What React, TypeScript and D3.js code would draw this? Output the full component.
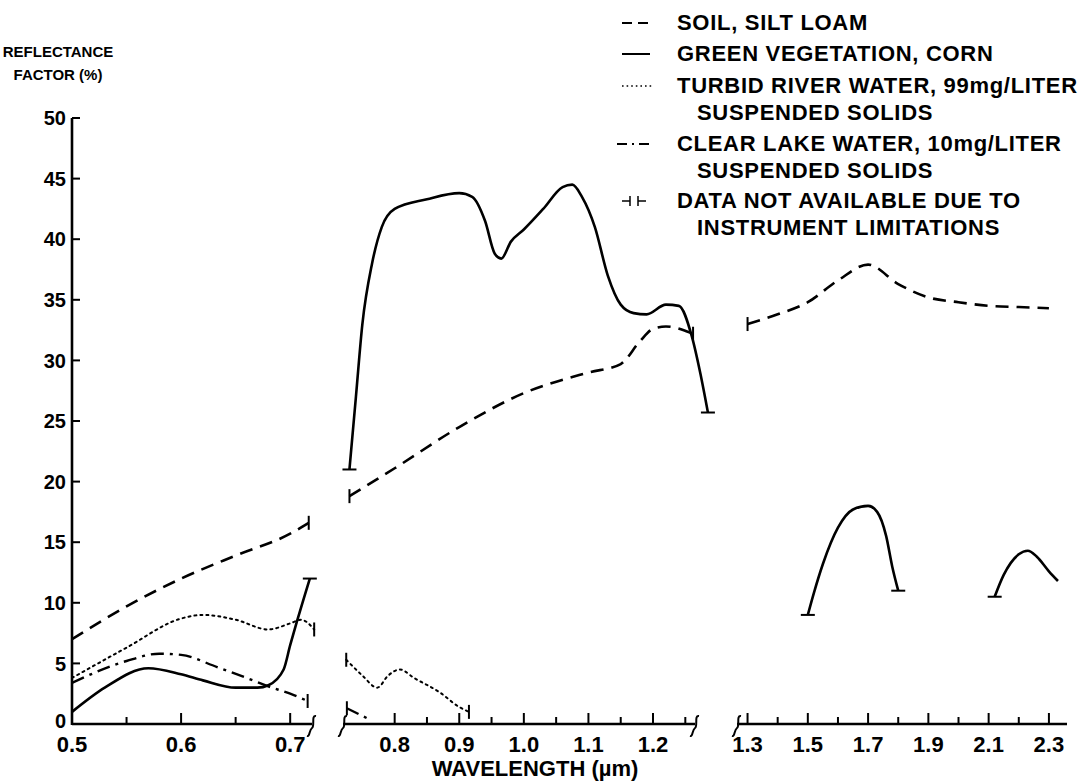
import * as d3 from "d3";

// broken x axis: three pieces, each with its own linear scale
const xDomains: [number, number][] = [
  [0.5, 0.72],
  [0.72, 1.265],
  [1.265, 2.36],
];
const majorTicks = [
  [0.5, 0.6, 0.7],
  [0.8, 0.9, 1.0, 1.1, 1.2],
  [1.3, 1.5, 1.7, 1.9, 2.1, 2.3],
];
const tickLabels = [
  ["0.5", "0.6", "0.7"],
  ["0.8", "0.9", "1.0", "1.1", "1.2"],
  ["1.3", "1.5", "1.7", "1.9", "2.1", "2.3"],
];
const minorTicks = [
  [0.55, 0.65],
  [0.85, 0.95, 1.05, 1.15, 1.25],
  [1.4, 1.6, 1.8, 2.0, 2.2],
];
const yTicks = [0, 5, 10, 15, 20, 25, 30, 35, 40, 45, 50];

// [wavelength µm, reflectance %]
const soil1 = [[0.5, 7.0], [0.55, 9.7], [0.6, 12.0], [0.65, 13.9], [0.7, 15.7], [0.717, 16.6]];
const soil2 = [[0.73, 18.8], [0.8, 21.1], [0.9, 24.5], [1.0, 27.3], [1.1, 29.0], [1.15, 29.7], [1.18, 31.6], [1.2, 32.6], [1.22, 32.8], [1.262, 32.2]];
const soil3 = [[1.3, 33.0], [1.4, 33.8], [1.5, 34.8], [1.6, 36.6], [1.7, 37.9], [1.8, 36.3], [1.9, 35.2], [2.0, 34.8], [2.1, 34.5], [2.2, 34.4], [2.3, 34.3]];

const corn1 = [[0.5, 1.0], [0.53, 3.0], [0.57, 4.6], [0.6, 4.1], [0.62, 3.6], [0.65, 3.0], [0.67, 3.0], [0.68, 3.2], [0.694, 4.5], [0.7, 6.5], [0.706, 8.4], [0.718, 12.0]];
const corn2 = [[0.73, 21.0], [0.74, 27.0], [0.75, 33.0], [0.765, 38.0], [0.78, 41.0], [0.8, 42.5], [0.85, 43.3], [0.9, 43.8], [0.92, 43.5], [0.94, 41.5], [0.955, 38.8], [0.965, 38.4], [0.98, 39.8], [1.0, 40.8], [1.03, 42.5], [1.06, 44.3], [1.075, 44.5], [1.09, 43.5], [1.11, 41.0], [1.13, 37.0], [1.15, 34.6], [1.17, 33.9], [1.19, 33.8], [1.22, 34.6], [1.24, 34.5], [1.26, 32.0], [1.273, 29.0], [1.285, 25.7]];
const corn3 = [[1.5, 9.0], [1.52, 10.8], [1.55, 13.2], [1.6, 16.2], [1.65, 17.7], [1.7, 18.0], [1.73, 17.5], [1.76, 15.5], [1.78, 13.0], [1.8, 11.0]];
const corn4 = [[2.12, 10.5], [2.15, 12.3], [2.2, 14.0], [2.23, 14.3], [2.26, 13.8], [2.3, 12.6], [2.33, 11.8]];

const river1 = [[0.5, 3.8], [0.55, 6.3], [0.6, 8.7], [0.62, 9.0], [0.65, 8.6], [0.68, 7.8], [0.7, 8.3], [0.71, 8.6], [0.722, 7.8]];
const river2 = [[0.725, 5.3], [0.75, 4.0], [0.773, 3.0], [0.79, 4.0], [0.808, 4.5], [0.83, 3.8], [0.87, 2.6], [0.9, 1.4], [0.915, 1.0]];

const lake1 = [[0.5, 3.4], [0.55, 5.2], [0.58, 5.8], [0.6, 5.7], [0.633, 4.7], [0.66, 3.8], [0.68, 3.1], [0.7, 2.5], [0.716, 1.9]];
const lake2 = [[0.726, 1.3], [0.76, 0.4]];

const legendLabels = [
  ["SOIL, SILT LOAM"],
  ["GREEN VEGETATION, CORN"],
  ["TURBID RIVER WATER, 99mg/LITER", "SUSPENDED SOLIDS"],
  ["CLEAR LAKE WATER, 10mg/LITER", "SUSPENDED SOLIDS"],
  ["DATA NOT AVAILABLE DUE TO", "INSTRUMENT LIMITATIONS"],
];

type Kind = "soil" | "corn" | "river" | "lake";
const dashes: Record<Kind, { dash: string; w: number }> = {
  soil: { dash: "13 8", w: 2.6 },
  corn: { dash: "none", w: 2.6 },
  river: { dash: "2 4", w: 2 },
  lake: { dash: "13 6 3 6", w: 2.4 },
};

// which ends of each piece carry the "no data" bar
const pieces: { kind: Kind; axis: number; pts: number[][]; bars: [boolean, boolean] }[] = [
  { kind: "soil", axis: 0, pts: soil1, bars: [false, true] },
  { kind: "soil", axis: 1, pts: soil2, bars: [true, true] },
  { kind: "soil", axis: 2, pts: soil3, bars: [true, false] },
  { kind: "corn", axis: 0, pts: corn1, bars: [false, true] },
  { kind: "corn", axis: 1, pts: corn2, bars: [true, true] },
  { kind: "corn", axis: 2, pts: corn3, bars: [true, true] },
  { kind: "corn", axis: 2, pts: corn4, bars: [true, false] },
  { kind: "river", axis: 0, pts: river1, bars: [false, true] },
  { kind: "river", axis: 1, pts: river2, bars: [true, true] },
  { kind: "lake", axis: 0, pts: lake1, bars: [false, true] },
  { kind: "lake", axis: 1, pts: lake2, bars: [true, false] },
];

const W = 1092;
const H = 784;
const axisY = 724;
const pieceRanges: [number, number][] = [
  [72, 312],
  [343, 695],
  [737, 1067],
];
const font = "'Liberation Sans', Arial, sans-serif";

export default function App() {
  const y = d3.scaleLinear().domain([0, 50]).range([axisY, 118]);
  const xs = xDomains.map((d, i) => d3.scaleLinear().domain(d).range(pieceRanges[i]));

  const bar = (p: number[], q: number[], key: string) => {
    // p = end point, q = neighbour (pixels)
    const steep = Math.abs(p[1] - q[1]) > Math.abs(p[0] - q[0]);
    const h = 7;
    return steep ? (
      <line key={key} x1={p[0] - h} x2={p[0] + h} y1={p[1]} y2={p[1]} stroke="#000" strokeWidth={2} />
    ) : (
      <line key={key} x1={p[0]} x2={p[0]} y1={p[1] - h} y2={p[1] + h} stroke="#000" strokeWidth={2} />
    );
  };

  const breakMark = (x: number, key: string) => (
    <path
      key={key}
      d={`M${x + 4},${axisY - 8} C${x - 1},${axisY - 9} ${x + 3},${axisY + 2} ${x},${axisY + 4} S${x - 2},${axisY + 13} ${x - 5},${axisY + 12}`}
      fill="none"
      stroke="#000"
      strokeWidth={2}
    />
  );

  const legendX = 677;
  const legendRowsY = [30, 61, 93, 151, 208];

  return (
    <svg width={W} height={H} style={{ position: "absolute", left: 0, top: 0, background: "#fff" }}>
      <rect width={W} height={H} fill="#fff" />

      {/* y axis */}
      <line x1={72} x2={72} y1={axisY + 1} y2={y(50)} stroke="#000" strokeWidth={2.6} />
      {yTicks.map((t) => (
        <g key={t}>
          <line x1={72} x2={80} y1={y(t)} y2={y(t)} stroke="#000" strokeWidth={2} />
          <text
            x={66}
            y={y(t) - (t === 0 ? 3 : 0)}
            dy="0.36em"
            textAnchor="end"
            fontFamily={font}
            fontWeight="bold"
            fontSize={20}
          >
            {t}
          </text>
        </g>
      ))}
      <text x={58} y={57} textAnchor="middle" fontFamily={font} fontWeight="bold" fontSize={15}>
        REFLECTANCE
      </text>
      <text x={58} y={80} textAnchor="middle" fontFamily={font} fontWeight="bold" fontSize={15}>
        FACTOR (%)
      </text>

      {/* x axis pieces */}
      {xs.map((x, i) => (
        <g key={i}>
          <line x1={pieceRanges[i][0]} x2={pieceRanges[i][1]} y1={axisY} y2={axisY} stroke="#000" strokeWidth={2.6} />
          {majorTicks[i].map((t, j) => (
            <g key={t}>
              <line x1={x(t)} x2={x(t)} y1={axisY} y2={axisY - 11} stroke="#000" strokeWidth={2} />
              <text x={x(t)} y={752} textAnchor="middle" fontFamily={font} fontWeight="bold" fontSize={22}>
                {tickLabels[i][j]}
              </text>
            </g>
          ))}
          {minorTicks[i].map((t) => (
            <line key={t} x1={x(t)} x2={x(t)} y1={axisY} y2={axisY - 7} stroke="#000" strokeWidth={2} />
          ))}
        </g>
      ))}
      {breakMark(pieceRanges[0][1], "b0")}
      {breakMark(pieceRanges[1][0], "b1")}
      {breakMark(pieceRanges[1][1], "b2")}
      {breakMark(pieceRanges[2][0], "b3")}
      <text x={535} y={776} textAnchor="middle" fontFamily={font} fontWeight="bold" fontSize={22}>
        WAVELENGTH (µm)
      </text>

      {/* curves */}
      {pieces.map((pc, i) => {
        const x = xs[pc.axis];
        const line = d3
          .line<number[]>()
          .x((d) => x(d[0]))
          .y((d) => y(d[1]))
          .curve(d3.curveMonotoneX);
        const px = pc.pts.map((d) => [x(d[0]), y(d[1])]);
        const st = dashes[pc.kind];
        return (
          <g key={i}>
            <path
              d={line(pc.pts) ?? ""}
              fill="none"
              stroke="#000"
              strokeWidth={st.w}
              strokeDasharray={st.dash}
              strokeLinecap={pc.kind === "river" ? "round" : "butt"}
            />
            {pc.bars[0] && bar(px[0], px[1], "s")}
            {pc.bars[1] && bar(px[px.length - 1], px[px.length - 2], "e")}
          </g>
        );
      })}

      {/* legend */}
      <g fontFamily={font} fontWeight="bold" fontSize={22} letterSpacing={0.7}>
        {legendLabels.map((lines, i) => (
          <g key={i}>
            {lines.map((s, j) => (
              <text key={j} x={legendX + (j ? 20 : 0)} y={legendRowsY[i] + j * 27}>
                {s}
              </text>
            ))}
          </g>
        ))}
      </g>
      <line x1={622} x2={648} y1={23} y2={23} stroke="#000" strokeWidth={2} strokeDasharray="10 6" />
      <line x1={622} x2={650} y1={54} y2={54} stroke="#000" strokeWidth={2} />
      <line x1={622} x2={652} y1={86} y2={86} stroke="#000" strokeWidth={1.6} strokeDasharray="1.6 3" />
      <line x1={617} x2={649} y1={144} y2={144} stroke="#000" strokeWidth={2} strokeDasharray="10 5 2 5" />
      <line x1={622} x2={630} y1={201} y2={201} stroke="#000" strokeWidth={1.5} />
      <line x1={630} x2={630} y1={196} y2={206} stroke="#000" strokeWidth={1.5} />
      <line x1={638} x2={646} y1={201} y2={201} stroke="#000" strokeWidth={1.5} />
      <line x1={638} x2={638} y1={196} y2={206} stroke="#000" strokeWidth={1.5} />
    </svg>
  );
}
